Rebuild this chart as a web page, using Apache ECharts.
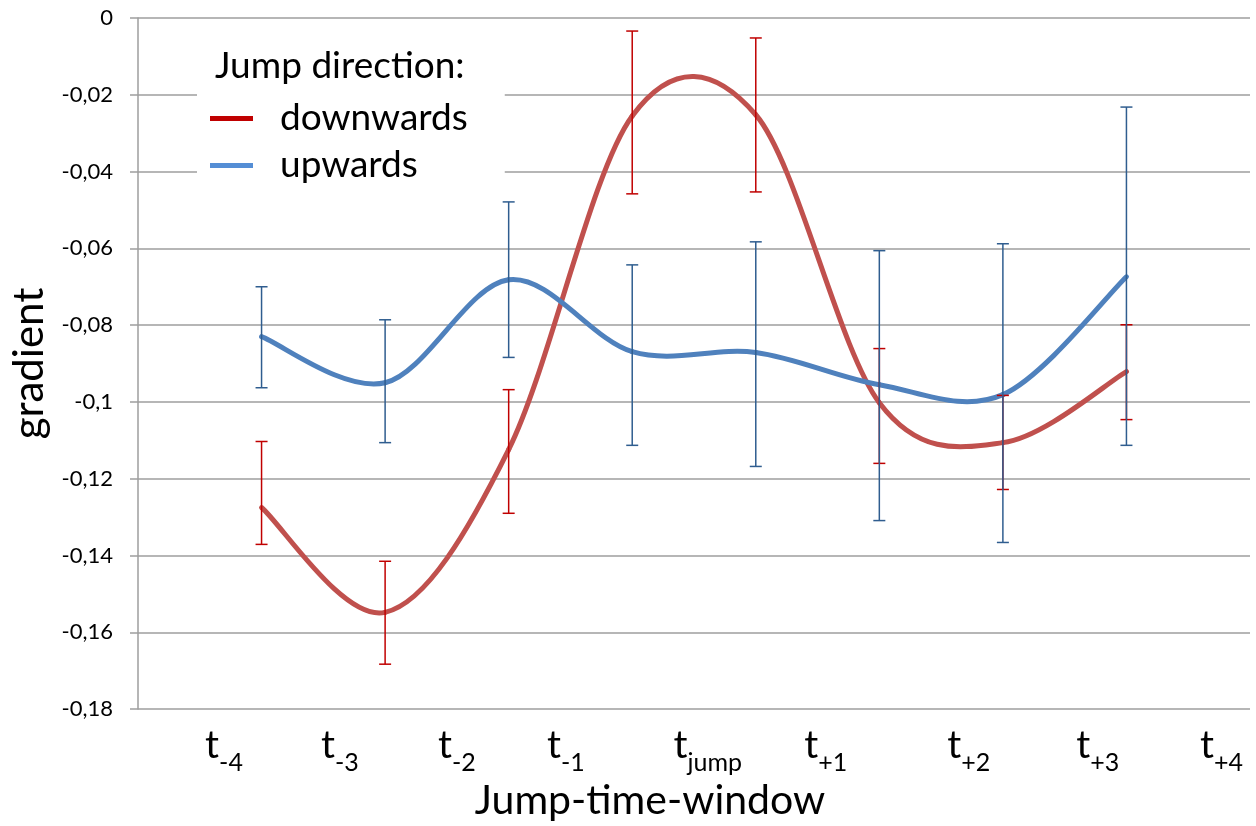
<!DOCTYPE html>
<html>
<head>
<meta charset="utf-8">
<script src="https://cdn.jsdelivr.net/npm/echarts@6/dist/echarts.min.js"></script>
<style>
html,body{margin:0;padding:0;background:#fff;}
#chart{width:1256px;height:826px;}
</style>
</head>
<body>
<div id="chart"></div>
<script>
// ---- data ----
var tickSubs = ['-4', '-3', '-2', '-1', 'jump', '+1', '+2', '+3', '+4'];
var yTicks = [0, -0.02, -0.04, -0.06, -0.08, -0.1, -0.12, -0.14, -0.16, -0.18];
var downMean = [-0.1275, -0.1548, -0.1124, -0.0255, -0.0252, -0.1002, -0.1106, -0.0921];
var downLow  = [-0.1371, -0.1683, -0.1290, -0.0458, -0.0453, -0.1160, -0.1228, -0.1046];
var downHigh = [-0.1103, -0.1415, -0.0968, -0.0034, -0.0052, -0.0861, -0.0983, -0.0799];
var upMean   = [-0.0830, -0.0950, -0.0682, -0.0869, -0.0871, -0.0955, -0.0981, -0.0674];
var upLow    = [-0.0963, -0.1106, -0.0884, -0.1113, -0.1168, -0.1309, -0.1366, -0.1113];
var upHigh   = [-0.0700, -0.0786, -0.0479, -0.0643, -0.0583, -0.0606, -0.0588, -0.0232];

// ---- layout (label placement on the x scale, as in the original) ----
var labelPos = [0.696, 1.634, 2.581, 3.463, 4.612, 5.566, 6.723, 7.767, 8.770];

var FONT = 'Lato, "Open Sans", sans-serif';

function pts(arr) { return arr.map(function (v, i) { return [i + 1, v]; }); }
function errs(lo, hi) { return lo.map(function (v, i) { return [i + 1, v, hi[i]]; }); }

// Catmull-Rom style smoothed segment (spreadsheet-like smoothing), one segment per data item
function smoothRender(values, color) {
  return function (params, api) {
    var i = params.dataIndex;
    var n = values.length;
    if (i >= n - 1) { return null; }
    var P = function (k) {
      k = Math.max(0, Math.min(n - 1, k));
      return api.coord([k + 1, values[k]]);
    };
    var p0 = P(i - 1), p1 = P(i), p2 = P(i + 1), p3 = P(i + 2);
    var c1 = [p1[0] + (p2[0] - p0[0]) / 6, p1[1] + (p2[1] - p0[1]) / 6];
    var c2 = [p2[0] - (p3[0] - p1[0]) / 6, p2[1] - (p3[1] - p1[1]) / 6];
    return {
      type: 'bezierCurve',
      shape: { x1: p1[0], y1: p1[1], x2: p2[0], y2: p2[1], cpx1: c1[0], cpy1: c1[1], cpx2: c2[0], cpy2: c2[1] },
      style: { stroke: color, fill: null, lineWidth: 5, lineCap: 'round' }
    };
  };
}

function errRender(color) {
  return function (params, api) {
    var x = api.value(0);
    var p1 = api.coord([x, api.value(1)]);
    var p2 = api.coord([x, api.value(2)]);
    var w = 6;
    var st = { stroke: color, lineWidth: 1.5 };
    return {
      type: 'group',
      children: [
        { type: 'line', shape: { x1: p1[0], y1: p1[1], x2: p2[0], y2: p2[1] }, style: st },
        { type: 'line', shape: { x1: p1[0] - w, y1: p1[1], x2: p1[0] + w, y2: p1[1] }, style: st },
        { type: 'line', shape: { x1: p2[0] - w, y1: p2[1], x2: p2[0] + w, y2: p2[1] }, style: st }
      ]
    };
  };
}

var chart = echarts.init(document.getElementById('chart'), null, { renderer: 'canvas' });
var option = {
  backgroundColor: '#fff',
  animation: false,
  textStyle: { fontFamily: FONT },
  title: {
    text: 'Jump direction:',
    left: 210,
    top: 43,
    textStyle: { fontFamily: FONT, fontSize: 37, fontWeight: 'normal', color: '#000' }
  },
  legend: {
    orient: 'vertical',
    left: 197,
    top: 91,
    padding: [4, 37, 4, 13],
    backgroundColor: '#fff',
    itemGap: 0,
    itemWidth: 43,
    itemHeight: 5,
    icon: 'rect',
    textStyle: { fontFamily: FONT, fontSize: 37, color: '#000', lineHeight: 40, padding: [0, 0, 7, 22] },
    data: [
      { name: 'downwards', itemStyle: { color: '#C00000' } },
      { name: 'upwards', itemStyle: { color: '#558ED5' } }
    ]
  },
  grid: { left: 138, right: 6, top: 18, bottom: 116, containLabel: false },
  xAxis: {
    type: 'value',
    min: 0,
    max: 9,
    name: 'Jump-time-window',
    nameLocation: 'middle',
    nameGap: 68,
    nameTextStyle: { fontFamily: FONT, fontSize: 41, color: '#000', padding: [0, 88, 0, 0] },
    axisLine: { show: false },
    axisTick: { show: false },
    splitLine: { show: false },
    axisLabel: {
      customValues: labelPos,
      margin: 17,
      formatter: function (v) {
        var i = labelPos.indexOf(v);
        if (i < 0) { return ''; }
        return '{t|t}{s|' + tickSubs[i] + '}';
      },
      rich: {
        t: { fontFamily: FONT, fontSize: 39, color: '#000', verticalAlign: 'bottom' },
        s: { fontFamily: FONT, fontSize: 25, color: '#000', verticalAlign: 'bottom', padding: [0, 0, -10, 0] }
      }
    }
  },
  yAxis: {
    type: 'value',
    min: -0.18,
    max: 0,
    interval: 0.02,
    name: 'gradient',
    nameLocation: 'middle',
    nameGap: 80,
    nameTextStyle: { fontFamily: FONT, fontSize: 42, color: '#000' },
    axisLine: { show: true, lineStyle: { color: '#9e9e9e', width: 1.5 } },
    axisTick: { show: true, inside: false, length: 8, lineStyle: { color: '#9e9e9e', width: 1.5 } },
    splitLine: { show: true, lineStyle: { color: '#9e9e9e', width: 1.5 } },
    axisLabel: {
      margin: 25,
      fontFamily: FONT,
      fontSize: 22,
      color: '#000',
      formatter: function (v) {
        var r = Math.round(v * 100) / 100;
        var best = yTicks.reduce(function (a, b) { return Math.abs(b - r) < Math.abs(a - r) ? b : a; });
        return String(best).replace('.', ',');
      }
    }
  },
  series: [
    {
      name: 'downwards',
      type: 'custom',
      data: pts(downMean),
      renderItem: smoothRender(downMean, '#C0504D'),
      encode: { x: 0, y: 1 },
      itemStyle: { color: '#C0504D' },
      z: 3
    },
    {
      name: 'upwards',
      type: 'custom',
      data: pts(upMean),
      renderItem: smoothRender(upMean, '#4F81BD'),
      encode: { x: 0, y: 1 },
      itemStyle: { color: '#4F81BD' },
      z: 3
    },
    {
      name: 'downErr',
      type: 'custom',
      data: errs(downLow, downHigh),
      renderItem: errRender('#C00000'),
      encode: { x: 0, y: [1, 2] },
      z: 4
    },
    {
      name: 'upErr',
      type: 'custom',
      data: errs(upLow, upHigh),
      renderItem: errRender('#2F5D8F'),
      encode: { x: 0, y: [1, 2] },
      z: 4
    }
  ]
};
chart.setOption(option);
</script>
</body>
</html>
